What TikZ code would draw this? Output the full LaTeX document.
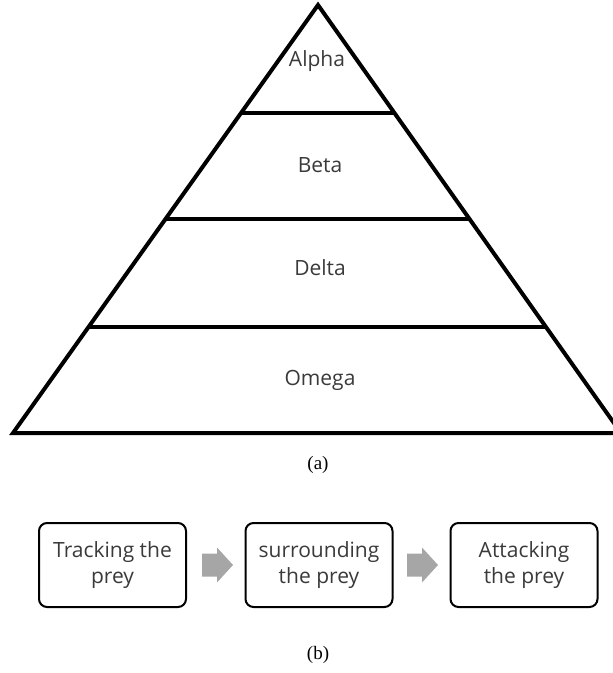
\documentclass[tikz,border=0pt]{standalone}
\usepackage{fontspec}
\setmainfont{Liberation Serif}
\newfontfamily\lblfont{Open Sans}
\usetikzlibrary{calc}
\definecolor{txtgray}{HTML}{3A3A3A}
\definecolor{arrgray}{HTML}{A6A6A6}
\tikzset{
  level/.style={font=\lblfont\fontsize{21}{24}\selectfont, text=txtgray, inner sep=0pt},
  stagebox/.style={draw=black, line width=2pt, rounded corners=8pt, minimum width=147pt, minimum height=84pt, align=center, font=\lblfont\fontsize{21}{26}\selectfont, text=txtgray, inner sep=0pt},
  blockarrow/.style={fill=arrgray, draw=none},
  caption/.style={font=\fontsize{19}{22}\selectfont, inner sep=0pt},
  pyr/.style={line width=4pt, line join=miter}
}
\begin{document}
\begin{tikzpicture}[x=1pt,y=1pt]
\useasboundingbox (0,0) rectangle (613,-673);
\clip (0,0) rectangle (613,-673);
\coordinate (A) at (318,-5);
\coordinate (BL) at (13,-433);
\coordinate (BR) at (621,-433);
\draw[pyr] (A) -- (BL) -- (BR) -- cycle;
\foreach \t/\n in {0.2523/1,0.5/2,0.7523/3}{
  \coordinate (L\n) at ($(A)!\t!(BL)$);
  \coordinate (R\n) at ($(A)!\t!(BR)$);
  \draw[line width=4pt] (L\n) -- (R\n);
}
\node[level] (alpha) at (317,-61) {Alpha};
\node[level] (beta) at (320,-165) {Beta};
\node[level] (delta) at (320,-268) {Delta};
\node[level] (omega) at (320,-380) {Omega};
\node[caption] (capa) at (318,-465) {(a)};
\node[stagebox] (s1) at (112.5,-565) {Tracking the\\prey};
\node[stagebox] (s2) at (319,-565) {surrounding\\the prey};
\node[stagebox] (s3) at (524,-565) {Attacking\\the prey};
\coordinate (a1) at (217.5,-565);
\coordinate (a2) at (422.5,-565);
\foreach \c in {a1,a2}{
  \fill[blockarrow] ($(\c)+(-15.5,11.5)$) -- ++(15,0) -- ++(0,6) -- ++(16,-17.5) -- ++(-16,-17.5) -- ++(0,6) -- ++(-15,0) -- cycle;
}
\node[caption] (capb) at (318,-655) {(b)};
\end{tikzpicture}
\end{document}
